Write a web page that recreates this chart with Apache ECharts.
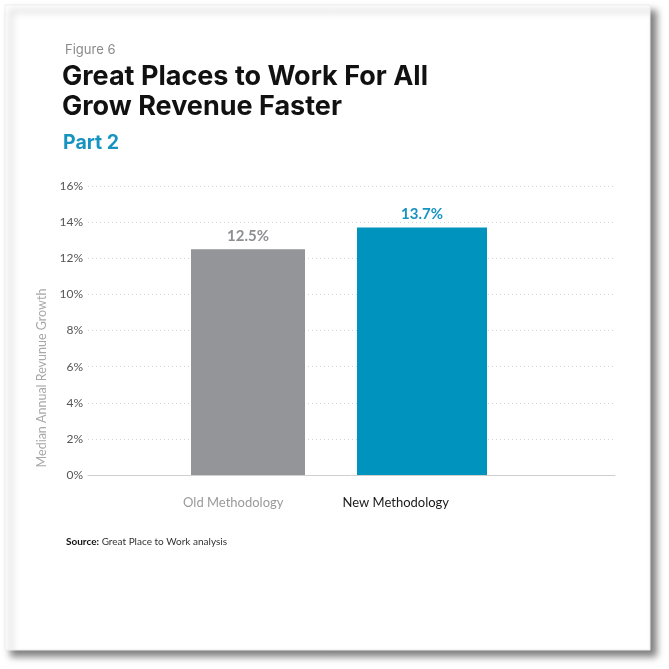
<!DOCTYPE html>
<html>
<head>
<meta charset="utf-8">
<script src="https://cdn.jsdelivr.net/npm/echarts@6/dist/echarts.min.js"></script>
<style>
  html, body { margin: 0; padding: 0; background: #fff; }
  #main { width: 669px; height: 669px; }
</style>
</head>
<body>
<div id="main"></div>
<script>
// chart data
const categories = ['Old Methodology', 'New Methodology'];
const values = [12.5, 13.7];
const barColors = ['#939598', '#0093be'];
const valueLabelColors = ['#8e8f92', '#1693c0'];
const categoryLabelColors = ['#9a9a9a', '#1a1a1a'];
const yTicks = { min: 0, max: 16, interval: 2 };

const FONT = 'Lato';
const HEAD_FONT = 'Inter';
const chart = echarts.init(document.getElementById('main'));

// one series per bar so each one can keep its own width
function barSeries(i, width) {
  return {
    type: 'bar',
    xAxisIndex: i + 1,
    yAxisIndex: 1,
    barWidth: width,
    data: categories.map((c, j) => (j === i ? values[i] : '-')),
    itemStyle: { color: barColors[i] },
    label: {
      show: true,
      position: 'top',
      distance: 6,
      formatter: p => p.value + '%',
      fontFamily: FONT,
      fontWeight: 'bold',
      fontSize: 15,
      color: valueLabelColors[i]
    },
    z: 3
  };
}

const option = {
  backgroundColor: '#fff',
  animation: false,
  grid: [
    { left: 88, right: 54, top: 186, bottom: 194 },   // gridlines + y axis
    { left: 161, right: 160, top: 186, bottom: 194 }, // bars
    { left: 152, right: 192, top: 186, bottom: 194 }  // category labels
  ],
  xAxis: [
    {
      gridIndex: 0, type: 'category', data: categories,
      axisLine: { lineStyle: { color: '#cfcfcf', width: 1 } },
      axisTick: { show: false }, axisLabel: { show: false }
    },
    { gridIndex: 1, type: 'category', data: categories, show: false },
    { gridIndex: 1, type: 'category', data: categories, show: false },
    {
      gridIndex: 2, type: 'category', data: categories,
      axisLine: { show: false }, axisTick: { show: false },
      axisLabel: {
        margin: 21,
        fontFamily: FONT,
        fontSize: 13,
        color: (v, i) => categoryLabelColors[i]
      }
    }
  ],
  yAxis: [
    {
      gridIndex: 0, type: 'value',
      min: yTicks.min, max: yTicks.max, interval: yTicks.interval,
      axisLine: { show: false }, axisTick: { show: false },
      axisLabel: {
        margin: 5,
        formatter: '{value}%',
        fontFamily: FONT,
        fontSize: 12,
        color: '#555'
      },
      splitLine: {
        lineStyle: { color: '#d4d4d4', type: [1, 3], width: 1 }
      }
    },
    { gridIndex: 1, type: 'value', min: yTicks.min, max: yTicks.max, show: false },
    { gridIndex: 2, type: 'value', min: yTicks.min, max: yTicks.max, show: false }
  ],
  series: [barSeries(0, 114), barSeries(1, 130)],
  graphic: [
    {
      type: 'rect', z: -10,
      shape: { x: 5, y: 5, width: 645, height: 645 },
      style: {
        fill: '#fff', stroke: '#ececec', lineWidth: 1,
        shadowColor: 'rgba(0,0,0,0.5)', shadowBlur: 7,
        shadowOffsetX: 6, shadowOffsetY: 6
      }
    },
    {
      type: 'text', x: 65, y: 50,
      style: { text: 'Figure 6', font: '13px ' + HEAD_FONT, fill: '#8a8a8a', verticalAlign: 'middle' }
    },
    {
      type: 'text', x: 62, y: 77,
      style: { text: 'Great Places to Work For All', font: 'bold 27px ' + HEAD_FONT, fill: '#111', verticalAlign: 'middle' }
    },
    {
      type: 'text', x: 62, y: 107,
      style: { text: 'Grow Revenue Faster', font: 'bold 27px ' + HEAD_FONT, fill: '#111', verticalAlign: 'middle' }
    },
    {
      type: 'text', x: 63, y: 143,
      style: { text: 'Part 2', font: 'bold 19.5px ' + HEAD_FONT, fill: '#1693c0', verticalAlign: 'middle' }
    },
    {
      type: 'text', x: 42, y: 378, rotation: Math.PI / 2,
      style: {
        text: 'Median Annual Revunue Growth', font: '12.5px ' + FONT, fill: '#a8a8a8',
        align: 'center', verticalAlign: 'middle'
      }
    },
    {
      type: 'text', x: 66, y: 542,
      style: {
        text: '{b|Source:} Great Place to Work analysis',
        font: '10px ' + FONT, fill: '#333', verticalAlign: 'middle',
        rich: { b: { fontWeight: 'bold', fontSize: 10, fontFamily: FONT, fill: '#111' } }
      }
    }
  ]
};

chart.setOption(option);
</script>
</body>
</html>
